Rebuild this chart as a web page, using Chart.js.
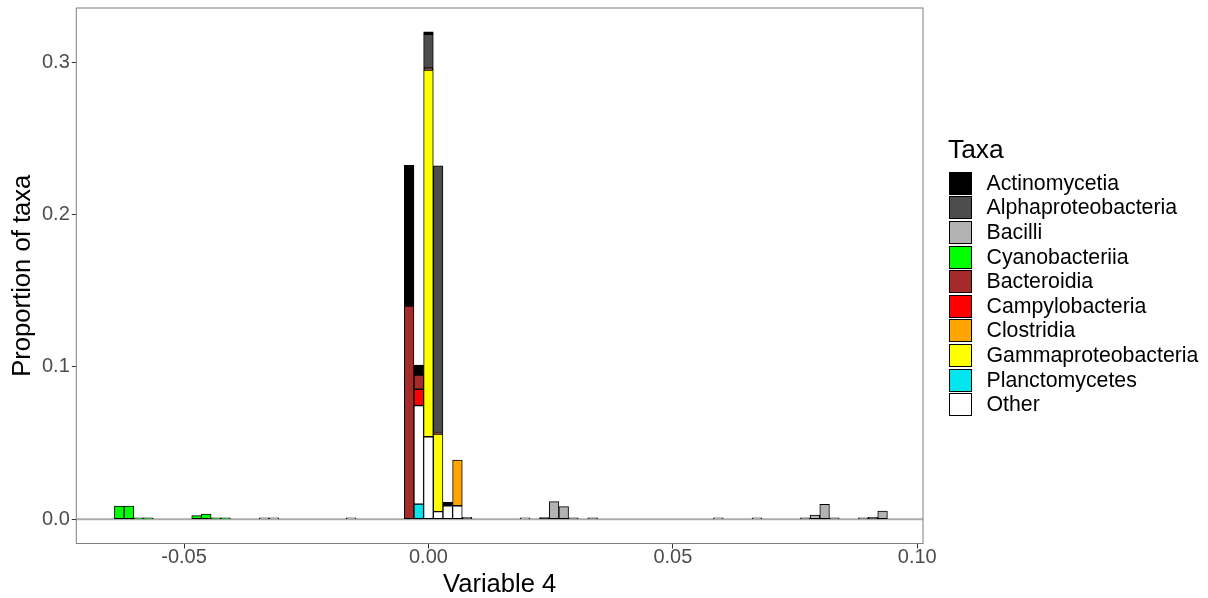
<!DOCTYPE html>
<html>
<head>
<meta charset="utf-8">
<script src="https://cdn.jsdelivr.net/npm/chart.js@4/dist/chart.umd.min.js"></script>
<style>
  html, body { margin: 0; padding: 0; background: #ffffff; }
  #wrap { position: relative; width: 1208px; height: 598px; font-family: "Liberation Sans", Arial, sans-serif; }
  #c { position: absolute; left: 0; top: 0; }
  #legend { position: absolute; left: 949px; top: 0; width: 259px; height: 598px; }
  #legend .title { position: absolute; left: -1px; top: 136px; font-size: 26.4px; line-height: 26px; color: #000; white-space: nowrap; }
  #legend .row { position: absolute; left: 0; height: 23px; }
  #legend .key { position: absolute; left: 0; top: 0; width: 23px; height: 23px; box-sizing: border-box; border: 1px solid #000; }
  #legend .lab { position: absolute; left: 37.5px; top: 0; font-size: 21.3px; line-height: 23px; color: #000; white-space: nowrap; }
</style>
</head>
<body>
<div id="wrap">
  <canvas id="c" width="1208" height="598"></canvas>
  <div id="legend"></div>
</div>
<script>
// ---------------- data ----------------
// histogram bin centres on the x axis (Variable 4)
const binCenters = [
  -0.063251, -0.061275, -0.059298, -0.057321, -0.047438, -0.045462, -0.043485, -0.041509, -0.033602, -0.031626, -0.015813,
  -0.003953, -0.001977, 0, 0.001977, 0.003953, 0.005930, 0.007906, 0.019766, 0.023719, 0.025696, 0.027672,
  0.029649, 0.033602, 0.059298, 0.067204, 0.077087, 0.079064, 0.081041, 0.083017, 0.088947, 0.090924, 0.092900
];

// taxa in legend order
const taxa = ["Actinomycetia", "Alphaproteobacteria", "Bacilli", "Cyanobacteriia", "Bacteroidia",
              "Campylobacteria", "Clostridia", "Gammaproteobacteria", "Planctomycetes", "Other"];

// proportion of taxa per bin, one array per taxon (aligned with binCenters)
const actinomycetia = [
  0, 0, 0, 0, 0, 0, 0, 0, 0, 0, 0,
  0.0924, 0.0066, 0.0017, 0, 0.0023, 0, 0, 0, 0.0012, 0, 0,
  0, 0, 0, 0, 0, 0, 0, 0, 0, 0, 0
];
const alphaproteobacteria = [
  0, 0, 0, 0, 0, 0, 0, 0, 0, 0, 0,
  0, 0, 0.0222, 0.1750, 0, 0, 0, 0, 0, 0, 0,
  0, 0, 0, 0, 0, 0, 0, 0, 0, 0, 0
];
const bacilli = [
  0, 0, 0, 0, 0, 0, 0, 0, 0, 0, 0,
  0, 0, 0, 0, 0, 0, 0, 0, 0, 0.0116, 0.0083,
  0.0010, 0.0010, 0, 0, 0.0010, 0.0028, 0.0098, 0.0010, 0.0010, 0.0013, 0.0054
];
const cyanobacteriia = [
  0.0087, 0.0087, 0.0010, 0.0010, 0.0024, 0.0034, 0.0010, 0.0010, 0, 0, 0,
  0, 0, 0, 0, 0, 0, 0, 0, 0, 0, 0,
  0, 0, 0, 0, 0, 0, 0, 0, 0, 0, 0
];
const bacteroidia = [
  0, 0, 0, 0, 0, 0, 0, 0, 0, 0, 0,
  0.1400, 0.0093, 0.0012, 0.0010, 0, 0, 0, 0, 0, 0, 0,
  0, 0, 0, 0, 0, 0, 0, 0, 0, 0, 0
];
const campylobacteria = [
  0, 0, 0, 0, 0, 0, 0, 0, 0, 0, 0,
  0, 0.0108, 0, 0, 0, 0, 0, 0, 0, 0, 0,
  0, 0, 0, 0, 0, 0, 0, 0, 0, 0, 0
];
const clostridia = [
  0, 0, 0, 0, 0, 0, 0, 0, 0, 0, 0,
  0, 0, 0, 0, 0, 0.0300, 0, 0, 0, 0, 0,
  0, 0, 0, 0, 0, 0, 0, 0, 0, 0, 0
];
const gammaproteobacteria = [
  0, 0, 0, 0, 0, 0, 0, 0, 0, 0, 0,
  0, 0, 0.2408, 0.0510, 0, 0, 0, 0, 0, 0, 0,
  0, 0, 0, 0, 0, 0, 0, 0, 0, 0, 0
];
const planctomycetes = [
  0, 0, 0, 0, 0, 0, 0, 0, 0, 0, 0,
  0, 0.0100, 0, 0, 0, 0, 0, 0, 0, 0, 0,
  0, 0, 0, 0, 0, 0, 0, 0, 0, 0, 0
];
const other = [
  0, 0, 0, 0, 0, 0, 0, 0, 0.0010, 0.0010, 0.0010,
  0, 0.0646, 0.0542, 0.0050, 0.0089, 0.0089, 0.0013, 0.0010, 0, 0, 0,
  0, 0, 0.0010, 0.0010, 0, 0, 0, 0, 0, 0, 0
];

// axis tick values
const xTickValues = [-0.05, 0, 0.05, 0.10];
const yTickValues = [0, 0.1, 0.2, 0.3];

// ---------------- styles ----------------
const taxaColors = {
  "Actinomycetia": "#000000",
  "Alphaproteobacteria": "#4D4D4D",
  "Bacilli": "#B3B3B3",
  "Cyanobacteriia": "#00FF00",
  "Bacteroidia": "#A52A2A",
  "Campylobacteria": "#FF0000",
  "Clostridia": "#FFA500",
  "Gammaproteobacteria": "#FFFF00",
  "Planctomycetes": "#00E5EE",
  "Other": "#FFFFFF"
};

// stacking order, bottom to top
const stackOrder = [
  ["Planctomycetes", planctomycetes],
  ["Other", other],
  ["Gammaproteobacteria", gammaproteobacteria],
  ["Clostridia", clostridia],
  ["Campylobacteria", campylobacteria],
  ["Bacteroidia", bacteroidia],
  ["Cyanobacteriia", cyanobacteriia],
  ["Bacilli", bacilli],
  ["Alphaproteobacteria", alphaproteobacteria],
  ["Actinomycetia", actinomycetia]
];

const FONT = "'Liberation Sans', Arial, Helvetica, sans-serif";
Chart.defaults.font.family = FONT;

const panelPlugin = {
  id: 'panel',
  beforeDatasetsDraw(chart) {
    const { ctx, chartArea: a, scales: { y } } = chart;
    const y0 = y.getPixelForValue(0);
    ctx.save();
    ctx.strokeStyle = '#ababab';
    ctx.lineWidth = 2;
    ctx.beginPath();
    ctx.moveTo(a.left, y0);
    ctx.lineTo(a.right, y0);
    ctx.stroke();
    ctx.restore();
  },
  afterDatasetsDraw(chart) {
    const { ctx, chartArea: a } = chart;
    ctx.save();
    ctx.strokeStyle = '#7f7f7f';
    ctx.lineWidth = 1;
    ctx.strokeRect(a.left, a.top, a.right - a.left, a.bottom - a.top);
    ctx.restore();
  }
};

new Chart(document.getElementById('c'), {
  type: 'bar',
  data: {
    labels: binCenters,
    datasets: stackOrder.map(([name, values]) => ({
      label: name,
      data: values,
      backgroundColor: taxaColors[name],
      borderColor: '#000000',
      borderWidth: 1,
      borderSkipped: false,
      barPercentage: 1,
      categoryPercentage: 1
    }))
  },
  options: {
    responsive: false,
    animation: false,
    devicePixelRatio: 1,
    layout: { padding: { left: 0, right: 285, top: 8, bottom: 0 } },
    plugins: {
      legend: { display: false },
      tooltip: { enabled: false }
    },
    scales: {
      x: {
        type: 'linear',
        stacked: true,
        offset: false,
        min: -0.07204,
        max: 0.10117,
        afterBuildTicks: (s) => { s.ticks = xTickValues.map(v => ({ value: v })); },
        afterFit: (s) => { s.height = 54.5; s.paddingLeft = 0; s.paddingRight = 0; },
        grid: { offset: false, drawOnChartArea: false, drawTicks: true, tickLength: 5, tickColor: '#333333', lineWidth: 1 },
        border: { display: false },
        ticks: {
          autoSkip: false,
          maxRotation: 0,
          padding: -3,
          color: '#4D4D4D',
          font: { size: 20, family: FONT },
          callback: (v) => Number(v).toFixed(2)
        },
        title: {
          display: true,
          text: 'Variable 4',
          color: '#000000',
          font: { size: 25.6, family: FONT, lineHeight: 1 },
          padding: { top: 0, bottom: 0 }
        }
      },
      y: {
        type: 'linear',
        stacked: true,
        min: -0.0159,
        max: 0.3357,
        afterBuildTicks: (s) => { s.ticks = yTickValues.map(v => ({ value: v })); },
        afterFit: (s) => { s.width = 76.3; s.paddingTop = 0; s.paddingBottom = 0; },
        grid: { offset: false, drawOnChartArea: false, drawTicks: true, tickLength: 4.5, tickColor: '#333333', lineWidth: 1 },
        border: { display: false },
        ticks: {
          autoSkip: false,
          padding: 2,
          color: '#4D4D4D',
          font: { size: 20, family: FONT },
          callback: (v) => Number(v).toFixed(1)
        },
        title: {
          display: true,
          text: 'Proportion of taxa',
          color: '#000000',
          font: { size: 25.6, family: FONT, lineHeight: 1.2 },
          padding: { top: 8, bottom: 0 }
        }
      }
    }
  },
  plugins: [panelPlugin]
});

// ---------------- legend ----------------
const legend = document.getElementById('legend');
const t = document.createElement('div');
t.className = 'title';
t.textContent = 'Taxa';
legend.appendChild(t);
taxa.forEach((name, i) => {
  const row = document.createElement('div');
  row.className = 'row';
  row.style.top = (171.7 + i * 24.6) + 'px';
  const key = document.createElement('div');
  key.className = 'key';
  key.style.background = taxaColors[name];
  const lab = document.createElement('div');
  lab.className = 'lab';
  lab.textContent = name;
  row.appendChild(key);
  row.appendChild(lab);
  legend.appendChild(row);
});
</script>
</body>
</html>
